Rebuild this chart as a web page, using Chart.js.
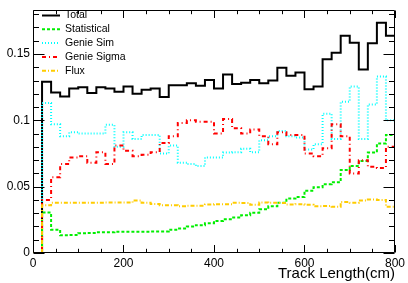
<!DOCTYPE html>
<html>
<head>
<meta charset="utf-8">
<script src="https://cdn.jsdelivr.net/npm/chart.js@4.4.1/dist/chart.umd.min.js"></script>
<style>
  html, body { margin: 0; padding: 0; background: #fff; }
  #wrap { width: 408px; height: 283px; }
</style>
</head>
<body>
<div id="wrap"><canvas id="chart"></canvas></div>
<script>
// bin edges (cm) and bin contents, first bin (0-20) is empty
const binEdges = [0, 20, 40, 60, 80, 100, 120, 140, 160, 180, 200, 220, 240, 260, 280, 300, 320, 340, 360, 380,
    400, 420, 440, 460, 480, 500, 520, 540, 560, 580, 600, 620, 640, 660, 680, 700, 720, 740, 760, 780, 800];

const total = [0, 0.129, 0.121, 0.118, 0.124, 0.125, 0.1205, 0.125, 0.124, 0.1215, 0.1255,
    0.120, 0.123, 0.124, 0.1176, 0.1264, 0.1264, 0.128, 0.126, 0.1304, 0.124,
    0.1346, 0.1274, 0.1284, 0.1304, 0.128, 0.130, 0.1396, 0.1336, 0.136, 0.1235,
    0.1255, 0.146, 0.151, 0.1637, 0.1585, 0.1383, 0.158, 0.1736, 0.1637];

const statistical = [0, 0.0305, 0.0176, 0.0134, 0.0136, 0.0148, 0.015, 0.0156, 0.0156, 0.016, 0.016,
    0.016, 0.016, 0.0162, 0.0162, 0.0176, 0.0185, 0.020, 0.021, 0.0225, 0.0242,
    0.0255, 0.0267, 0.0284, 0.0304, 0.0329, 0.0353, 0.0378, 0.041, 0.0422, 0.047,
    0.0496, 0.0519, 0.0533, 0.0625, 0.0655, 0.0694, 0.0758, 0.0825, 0.089];

const genieSim = [0, 0.113, 0.097, 0.088, 0.091, 0.090, 0.090, 0.090, 0.0966, 0.080, 0.091,
    0.086, 0.089, 0.089, 0.075, 0.081, 0.068, 0.067, 0.0655, 0.072, 0.072,
    0.0758, 0.076, 0.0785, 0.076, 0.085, 0.088, 0.092, 0.088, 0.087, 0.078,
    0.082, 0.105, 0.086, 0.114, 0.1255, 0.086, 0.112, 0.133, 0.100];

const genieSigma = [0, 0.040, 0.057, 0.067, 0.072, 0.073, 0.068, 0.076, 0.067, 0.081, 0.077,
    0.073, 0.074, 0.076, 0.083, 0.088, 0.098, 0.100, 0.099, 0.099, 0.090,
    0.101, 0.094, 0.090, 0.093, 0.088, 0.082, 0.091, 0.089, 0.089, 0.075,
    0.073, 0.079, 0.097, 0.088, 0.060, 0.070, 0.065, 0.064, 0.080];

const flux = [0, 0.036, 0.0378, 0.0378, 0.0378, 0.0378, 0.0378, 0.0378, 0.038, 0.038, 0.038,
    0.0395, 0.0378, 0.037, 0.036, 0.036, 0.0353, 0.0357, 0.0357, 0.0366, 0.0368,
    0.0368, 0.0378, 0.0376, 0.0363, 0.038, 0.0378, 0.0376, 0.0366, 0.0368, 0.0363,
    0.0353, 0.0355, 0.0348, 0.0385, 0.0378, 0.0396, 0.0403, 0.040, 0.0348];

const seriesNames = ['Total', 'Statistical', 'Genie Sim', 'Genie Sigma', 'Flux'];
const xTickLabels = [0, 200, 400, 600, 800];
const yTickLabels = [0, 0.05, 0.1, 0.15];

const FONT = '"Liberation Sans", Arial, Helvetica, sans-serif';

function toSteps(values) {
    // one point per lower bin edge, last content held up to the upper edge
    const pts = values.map((v, i) => ({x: binEdges[i], y: v}));
    pts.push({x: binEdges[binEdges.length - 1], y: values[values.length - 1]});
    return pts;
}

function histDataset(label, values, color, dash, order) {
    return {
        label,
        data: toSteps(values),
        borderColor: color,
        borderWidth: 2,
        borderDash: dash,
        stepped: true,
        pointRadius: 0,
        fill: false,
        tension: 0,
        order
    };
}

// ROOT style frame: box plus inward tick marks on all four sides
const rootFrame = {
    id: 'rootFrame',
    afterDatasetsDraw(chart) {
        const {ctx, chartArea: a, scales: {x, y}} = chart;
        const L = Math.round(a.left) + 0.5, R = Math.round(a.right) - 0.5;
        const T = Math.round(a.top) + 0.5, B = Math.round(a.bottom) - 0.5;
        ctx.save();
        ctx.strokeStyle = '#000';
        ctx.lineWidth = 1;
        ctx.setLineDash([]);
        ctx.beginPath();
        ctx.rect(L, T, R - L, B - T);

        for (let v = 0; v <= x.max + 1e-6; v += 50) {
            const px = Math.round(x.getPixelForValue(v)) + 0.5;
            const len = v % 200 === 0 ? 7.5 : 3.7;
            ctx.moveTo(px, B); ctx.lineTo(px, B - len);
            ctx.moveTo(px, T); ctx.lineTo(px, T + len);
        }
        for (let i = 0; i * 0.01 <= y.max + 1e-9; i++) {
            const py = Math.round(y.getPixelForValue(i * 0.01)) + 0.5;
            const len = i % 5 === 0 ? 11 : 5.5;
            ctx.moveTo(L, py); ctx.lineTo(L + len, py);
            ctx.moveTo(R, py); ctx.lineTo(R - len, py);
        }
        ctx.stroke();
        ctx.restore();
    }
};

// legend in the upper left corner of the frame
const rootLegend = {
    id: 'rootLegend',
    afterDraw(chart) {
        const {ctx} = chart;
        ctx.save();
        ctx.font = '10.5px ' + FONT;
        ctx.textBaseline = 'middle';
        ctx.fillStyle = '#000';
        chart.data.datasets.forEach((ds, i) => {
            const yy = 15.5 + i * 13.8;
            ctx.beginPath();
            ctx.strokeStyle = ds.borderColor;
            ctx.lineWidth = 2;
            ctx.setLineDash(ds.borderDash || []);
            ctx.moveTo(42, yy);
            ctx.lineTo(60, yy);
            ctx.stroke();
            ctx.fillText(ds.label, 65, yy);
        });
        ctx.restore();
    }
};

new Chart(document.getElementById('chart'), {
    type: 'line',
    data: {
        datasets: [
            histDataset(seriesNames[0], total, '#000000', [], 4),
            histDataset(seriesNames[1], statistical, '#00ee00', [3, 2], 3),
            histDataset(seriesNames[2], genieSim, '#00ffff', [1, 2], 2),
            histDataset(seriesNames[3], genieSigma, '#ff0000', [4, 3, 1, 3], 1),
            histDataset(seriesNames[4], flux, '#ffcc00', [4, 2, 1, 2], 0)
        ]
    },
    options: {
        responsive: true,
        maintainAspectRatio: false,
        animation: false,
        devicePixelRatio: 1,
        layout: {padding: {top: 6, right: 11, left: 0, bottom: 0}},
        plugins: {
            legend: {display: false},
            tooltip: {enabled: false}
        },
        scales: {
            x: {
                type: 'linear',
                min: 0,
                max: 800,
                grid: {display: false, drawTicks: false},
                border: {display: false},
                ticks: {
                    stepSize: 200,
                    includeBounds: false,
                    maxRotation: 0,
                    padding: 3,
                    color: '#000',
                    font: {family: FONT, size: 12},
                    callback: v => xTickLabels.includes(v) ? String(v) : ''
                },
                title: {
                    display: true,
                    text: 'Track Length(cm)',
                    align: 'end',
                    color: '#000',
                    padding: {top: 0, bottom: 0},
                    font: {family: FONT, size: 15}
                },
                afterFit: s => { s.height = 30; }
            },
            y: {
                min: 0,
                max: 0.183,
                grid: {display: false, drawTicks: false},
                border: {display: false},
                ticks: {
                    stepSize: 0.05,
                    includeBounds: false,
                    padding: 3,
                    color: '#000',
                    font: {family: FONT, size: 12},
                    callback: v => {
                        const r = Math.round(v * 100) / 100;
                        return yTickLabels.includes(r) ? String(r) : '';
                    }
                },
                afterFit: s => { s.width = 33; }
            }
        }
    },
    plugins: [rootFrame, rootLegend]
});
</script>
</body>
</html>
